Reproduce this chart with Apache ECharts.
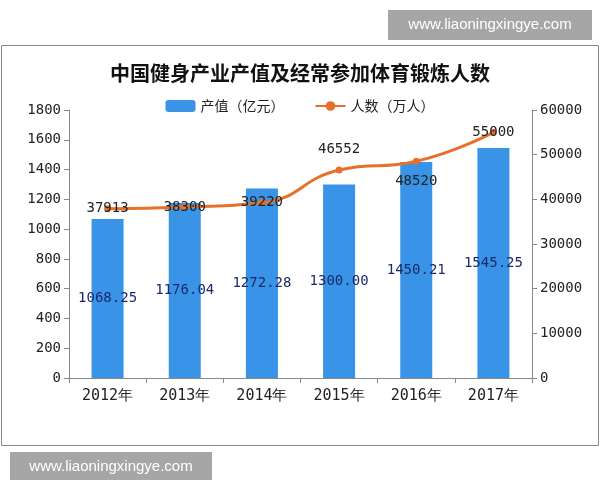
<!DOCTYPE html>
<html>
<head>
<meta charset="utf-8">
<script src="https://cdn.jsdelivr.net/npm/echarts@6/dist/echarts.min.js"></script>
<style>
  html, body { margin: 0; padding: 0; background: #fff; }
  #chart { width: 600px; height: 480px; }
</style>
</head>
<body>
<div id="chart"></div>
<script>
// 데이터
const years = ['2012年', '2013年', '2014年', '2015年', '2016年', '2017年'];
const outputValue = [1068.25, 1176.04, 1272.28, 1300.00, 1450.21, 1545.25];
const people = [37913, 38300, 39220, 46552, 48520, 55000];
// 각 점 라벨 위치 (원본에 맞춤)
const peopleLabelPos = ['inside', 'inside', 'inside', 'top', 'bottom', 'inside'];

const numFont = '"DejaVu Sans Mono", "Liberation Mono", monospace';
const cjkFont = '"Noto Sans CJK SC", sans-serif';

const chart = echarts.init(document.getElementById('chart'));

const axisLabelStyle = {
  fontFamily: numFont, fontSize: 14, color: '#222', margin: 8,
  formatter: (v) => String(v)
};

const option = {
  animation: false,
  title: {
    text: '中国健身产业产值及经常参加体育锻炼人数',
    left: 'center',
    top: 58,
    textStyle: { fontFamily: cjkFont, fontSize: 20, fontWeight: 'bold', color: '#111' }
  },
  legend: {
    top: 94,
    left: 'center',
    itemWidth: 30,
    itemHeight: 12,
    itemGap: 30,
    textStyle: { fontFamily: cjkFont, fontSize: 14, color: '#222' },
    data: ['产值（亿元）', '人数（万人）']
  },
  grid: { left: 69, right: 68, top: 110, bottom: 102 },
  xAxis: {
    type: 'category',
    data: years,
    axisLine: { lineStyle: { color: '#888' } },
    axisTick: { show: true, alignWithLabel: false, length: 5, lineStyle: { color: '#888' } },
    axisLabel: { fontFamily: numFont, fontSize: 15, color: '#222', margin: 11 }
  },
  yAxis: [
    {
      type: 'value',
      min: 0, max: 1800, interval: 200,
      axisLine: { show: true, lineStyle: { color: '#888' } },
      axisTick: { show: true, length: 5, lineStyle: { color: '#888' } },
      splitLine: { show: false },
      axisLabel: axisLabelStyle
    },
    {
      type: 'value',
      min: 0, max: 60000, interval: 10000,
      position: 'right',
      axisLine: { show: true, lineStyle: { color: '#888' } },
      axisTick: { show: true, length: 5, lineStyle: { color: '#888' } },
      splitLine: { show: false },
      axisLabel: axisLabelStyle
    }
  ],
  series: [
    {
      name: '产值（亿元）',
      type: 'bar',
      barWidth: 32,
      data: outputValue,
      itemStyle: { color: '#3993e6' },
      label: {
        show: true,
        position: 'inside',
        formatter: (p) => p.value.toFixed(2),
        fontFamily: numFont,
        fontSize: 14,
        color: '#1b2a6b'
      }
    },
    {
      name: '人数（万人）',
      type: 'line',
      yAxisIndex: 1,
      smooth: true,
      symbol: 'circle',
      symbolSize: 7,
      lineStyle: { color: '#e5712c', width: 3 },
      itemStyle: { color: '#e5712c' },
      data: people.map((v, i) => ({
        value: v,
        label: { position: peopleLabelPos[i], distance: 10 }
      })),
      label: {
        show: true,
        formatter: (p) => String(p.value),
        fontFamily: numFont,
        fontSize: 14,
        color: '#222'
      },
      z: 5
    }
  ],
  graphic: [
    {
      type: 'rect',
      shape: { x: 1.5, y: 45.5, width: 597, height: 400 },
      style: { fill: 'none', stroke: '#888', lineWidth: 1 },
      silent: true
    },
    {
      type: 'group',
      left: 388, top: 10,
      children: [
        { type: 'rect', shape: { x: 0, y: 0, width: 204, height: 30 }, style: { fill: '#a6a6a6' } },
        { type: 'text', x: 102, y: 15, style: { text: 'www.liaoningxingye.com', fill: '#fff', font: '15px "Liberation Sans", sans-serif', align: 'center', verticalAlign: 'middle' } }
      ]
    },
    {
      type: 'group',
      left: 10, top: 452,
      children: [
        { type: 'rect', shape: { x: 0, y: 0, width: 202, height: 34 }, style: { fill: '#a6a6a6' } },
        { type: 'text', x: 101, y: 15, style: { text: 'www.liaoningxingye.com', fill: '#fff', font: '15px "Liberation Sans", sans-serif', align: 'center', verticalAlign: 'middle' } }
      ]
    }
  ]
};

chart.setOption(option);
</script>
</body>
</html>
